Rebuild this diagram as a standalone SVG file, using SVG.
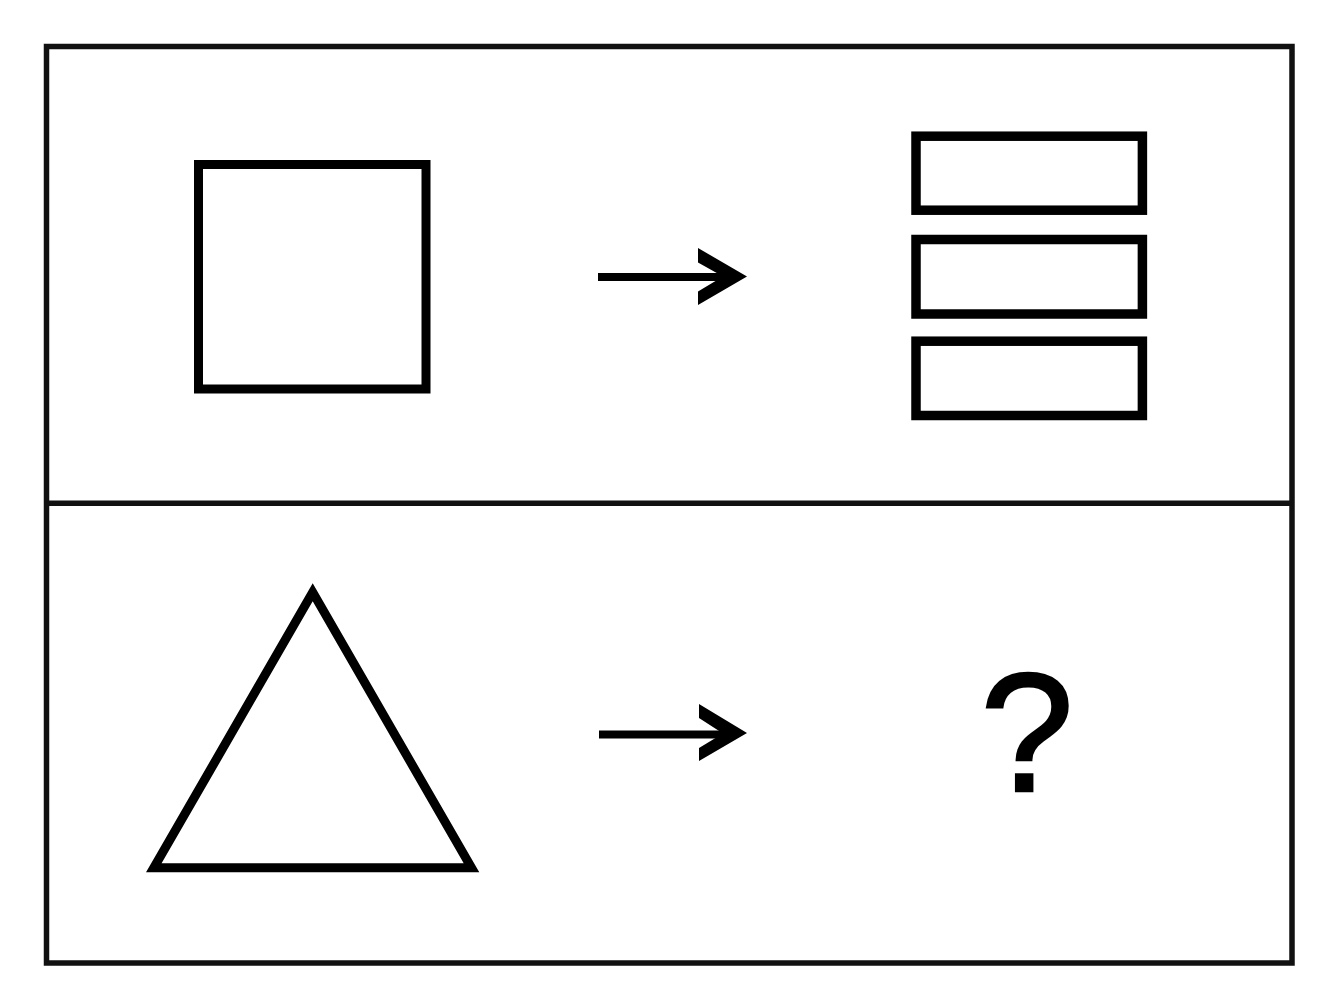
<svg xmlns="http://www.w3.org/2000/svg" width="1328" height="984" viewBox="0 0 1328 984">
  <style>
    .frame { fill: none; stroke: #111; stroke-width: 5.5; }
    .shape { fill: #fff; stroke: #000; stroke-width: 9; stroke-linejoin: miter; }
    .bar { fill: #fff; stroke: #000; stroke-width: 9.5; }
    .shaft { stroke: #000; stroke-width: 8; fill: none; }
    .head { fill: #000; stroke: none; }
    .q { font-family: "Liberation Sans", Arial, sans-serif; font-size: 168px; fill: #000; stroke: #000; stroke-width: 2.5; }
  </style>
  <rect width="1328" height="984" fill="#fff"/>
  <g id="frame">
    <rect class="frame" x="46.5" y="46.5" width="1245.5" height="916.5"/>
    <line class="frame" x1="46.5" y1="503.3" x2="1292" y2="503.3"/>
  </g>
  <g id="square">
    <rect class="shape" x="198.5" y="164.5" width="227.5" height="224.5"/>
  </g>
  <g id="three-bars">
    <rect class="bar" x="916" y="136.2" width="226.4" height="74"/>
    <rect class="bar" x="916" y="239.5" width="226.4" height="74.5"/>
    <rect class="bar" x="916" y="341.2" width="226.4" height="74.3"/>
  </g>
  <g id="triangle">
    <polygon class="shape" points="312.7,592.3 471.5,867.8 153.8,867.8"/>
  </g>
  <g id="question">
    <text class="q" x="1027" y="790.5" text-anchor="middle">?</text>
  </g>
  <g id="connectors">
    <line class="shaft" x1="598" y1="277" x2="728" y2="277"/>
    <polygon class="head" points="698,248 747,276.5 698,305 698,291.5 723,276.5 698,262.5"/>
    <line class="shaft" x1="599" y1="734.5" x2="728" y2="734.5"/>
    <polygon class="head" points="699,704 747,733 699,761 699,748 723,733.5 699,718"/>
  </g>
</svg>
